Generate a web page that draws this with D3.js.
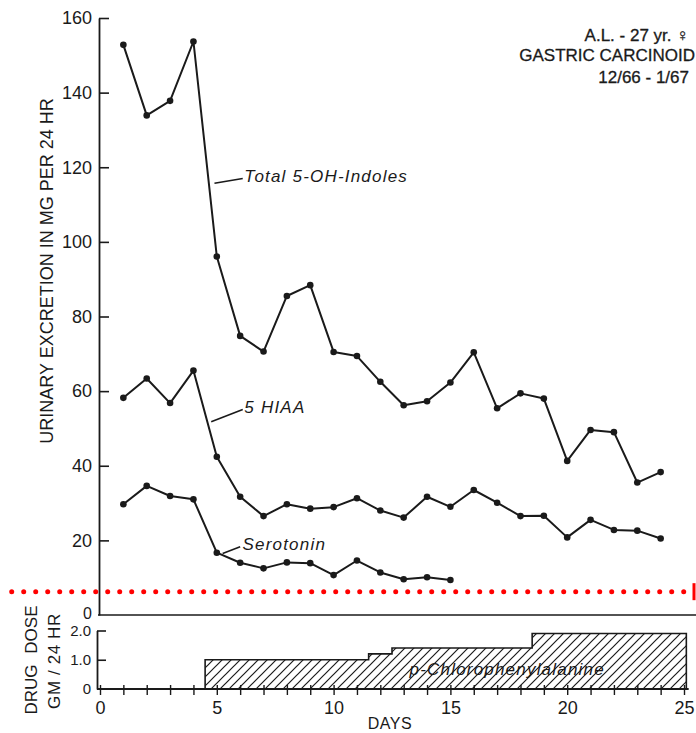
<!DOCTYPE html>
<html>
<head>
<meta charset="utf-8">
<script src="https://cdn.jsdelivr.net/npm/d3@7"></script>
<style>
  body { margin: 0; background: #fff; }
  svg { display: block; font-family: "Liberation Sans", "DejaVu Sans", sans-serif; }
  .lbl { font-style: italic; font-size: 17px; letter-spacing: 1.2px; fill: #1a1a1a; }
</style>
</head>
<body>
<svg id="chart" width="696" height="733"></svg>
<script>
// days of study
var days = [1,2,3,4,5,6,7,8,9,10,11,12,13,14,15,16,17,18,19,20,21,22,23,24];

// urinary excretion, mg per 24 hr
var totalIndoles = [152.8,133.9,137.8,153.7,96.1,74.8,70.6,85.5,88.4,70.5,69.4,62.5,
                    56.2,57.3,62.3,70.4,55.4,59.4,58.0,41.3,49.6,49.0,35.5,38.3];
var hiaa = [58.2,63.4,56.8,65.5,42.4,31.7,26.5,29.7,28.5,28.9,31.3,28.0,
            26.1,31.7,29.0,33.5,30.1,26.5,26.6,20.8,25.5,22.8,22.6,20.5];
var serotonin = [29.7,34.6,31.9,31.0,16.7,14.0,12.5,14.1,13.9,10.7,14.6,11.4,9.6,10.1,9.4];

// p-chlorophenylalanine dose, gm per 24 hr (step changes)
var doseDays   = [4.5, 11.5, 12.5, 18.5, 25.1];
var doseLevels = [1.0, 1.2, 1.4, 1.9, 1.9];

var upperTicks = [0,20,40,60,80,100,120,140,160];
var doseTicks  = [0,1,2];
var dayTicks   = [0,1,2,3,4,5,6,7,8,9,10,11,12,13,14,15,16,17,18,19,20,21,22,23,24,25];
var dayLabels  = [0,5,10,15,20,25];

// series labels: leader start, leader end and text anchor, in day/value units
var seriesLabels = [
    {text: "Total 5-OH-Indoles", from: [4.9, 115.7], to: [6.11, 117.0], at: [6.18, 117.4]},
    {text: "5 HIAA",             from: [4.76, 51.8], to: [6.11, 55.1], at: [6.18, 55.6]},
    {text: "Serotonin",          from: [5.25, 16.5], to: [6.0, 18.3],  at: [6.1, 19.0]}
];
var refValue = 6.25;

var svg = d3.select("#chart");
var ink = "#1a1a1a";

var x = d3.scaleLinear().domain([0, 25]).range([100, 684]);
var y = d3.scaleLinear().domain([0, 160]).range([615, 18]);
var y2 = d3.scaleLinear().domain([0, 2]).range([689, 630.5]);

// hatch pattern
var defs = svg.append("defs");
defs.append("pattern")
    .attr("id", "hatch")
    .attr("patternUnits", "userSpaceOnUse")
    .attr("width", 9).attr("height", 9)
  .append("path")
    .attr("d", "M-2,2 l4,-4 M0,9 l9,-9 M7,11 l4,-4")
    .attr("stroke", ink)
    .attr("stroke-width", 1.2);

// ---- upper panel ----
var upper = svg.append("g");

upper.append("line")
    .attr("x1", x(0) - 2).attr("x2", 696)
    .attr("y1", y(0)).attr("y2", y(0))
    .attr("stroke", ink).attr("stroke-width", 1.6);

var yAxis = upper.append("g")
    .attr("transform", "translate(" + (x(0) - 1) + ",0)")
    .call(d3.axisLeft(y).tickValues(upperTicks).tickSize(-10).tickSizeOuter(0).tickPadding(7));
yAxis.select(".domain").attr("stroke", ink).attr("stroke-width", 1.8);
yAxis.selectAll(".tick line").attr("stroke", ink).attr("stroke-width", 1.6);
yAxis.selectAll(".tick text").attr("font-size", 18).attr("fill", ink);
yAxis.selectAll(".tick").filter(function(d) { return d === 0; })
    .call(function(t) {
        t.select("line").remove();
        t.select("text").attr("font-size", 16).attr("dy", "0.2em");
    });

upper.append("text")
    .attr("transform", "translate(47,271) rotate(-90)")
    .attr("text-anchor", "middle")
    .attr("dominant-baseline", "central")
    .attr("font-size", 18)
    .attr("fill", ink)
    .text("URINARY EXCRETION IN MG PER 24 HR");

// data lines
var line = d3.line()
    .x(function(d) { return x(d[0]); })
    .y(function(d) { return y(d[1]); });

[totalIndoles, hiaa, serotonin].forEach(function(series) {
    var pts = series.map(function(v, i) { return [days[i], v]; });
    upper.append("path")
        .datum(pts)
        .attr("d", line)
        .attr("fill", "none")
        .attr("stroke", ink)
        .attr("stroke-width", 2)
        .attr("stroke-linejoin", "round");
    upper.append("g")
        .selectAll("circle")
        .data(pts)
        .enter().append("circle")
        .attr("cx", function(d) { return x(d[0]); })
        .attr("cy", function(d) { return y(d[1]); })
        .attr("r", 3.3)
        .attr("fill", ink);
});

// series labels with leaders
seriesLabels.forEach(function(l) {
    upper.append("line")
        .attr("x1", x(l.from[0])).attr("y1", y(l.from[1]))
        .attr("x2", x(l.to[0])).attr("y2", y(l.to[1]))
        .attr("stroke", ink).attr("stroke-width", 1.6);
    upper.append("text")
        .attr("class", "lbl")
        .attr("x", x(l.at[0]))
        .attr("y", y(l.at[1]))
        .attr("dominant-baseline", "central")
        .text(l.text);
});

// patient note
var note = [
    {t: "A.L. - 27 yr. \u2640", x: 689, y: 35},
    {t: "GASTRIC CARCINOID", x: 695, y: 55},
    {t: "12/66 - 1/67", x: 689, y: 77}
];
svg.append("g").selectAll("text")
    .data(note)
    .enter().append("text")
    .attr("x", function(d) { return d.x; })
    .attr("y", function(d) { return d.y; })
    .attr("text-anchor", "end")
    .attr("dominant-baseline", "central")
    .attr("font-size", 17)
    .attr("fill", ink)
    .attr("stroke", ink)
    .attr("stroke-width", 0.3)
    .text(function(d) { return d.t; });

// red dotted reference line
var refY = y(refValue);
svg.append("g").selectAll("circle")
    .data(d3.range(11.7, 690, 12))
    .enter().append("circle")
    .attr("cx", function(d) { return d; })
    .attr("cy", refY)
    .attr("r", 2.5)
    .attr("fill", "#f00");
svg.append("rect")
    .attr("x", 692.5).attr("y", refY - 8.5)
    .attr("width", 3).attr("height", 17)
    .attr("fill", "#f00");

// ---- lower panel ----
var lower = svg.append("g");

var dosePts = doseDays.map(function(d, i) { return [d, doseLevels[i]]; });
var area = d3.area()
    .curve(d3.curveStepAfter)
    .x(function(d) { return x(d[0]); })
    .y0(y2(0))
    .y1(function(d) { return y2(d[1]); });

lower.append("path")
    .datum(dosePts)
    .attr("d", area)
    .attr("fill", "url(#hatch)")
    .attr("stroke", ink)
    .attr("stroke-width", 1.6);

lower.append("text")
    .attr("class", "lbl")
    .attr("x", x(13.25))
    .attr("y", y2(0.65))
    .attr("dominant-baseline", "central")
    .attr("font-size", 16)
    .attr("letter-spacing", 1.6)
    .text("p-Chlorophenylalanine");

var y2Axis = lower.append("g")
    .attr("transform", "translate(" + (x(0) - 3) + ",0)")
    .call(d3.axisLeft(y2).tickValues(doseTicks).tickSize(-9).tickSizeOuter(0).tickPadding(6)
        .tickFormat(function(d) { return d === 0 ? "0" : d.toFixed(1); }));
y2Axis.select(".domain").attr("stroke", ink).attr("stroke-width", 1.8);
y2Axis.selectAll(".tick line").attr("stroke", ink).attr("stroke-width", 1.6);
y2Axis.selectAll(".tick text").attr("font-size", 15).attr("fill", ink);
y2Axis.selectAll(".tick").filter(function(d) { return d === 0; }).select("line").remove();

var xAxis = lower.append("g")
    .attr("transform", "translate(0," + y2(0) + ")")
    .call(d3.axisBottom(x).tickValues(dayTicks).tickSize(6).tickSizeOuter(0).tickPadding(6)
        .tickFormat(function(d) { return dayLabels.indexOf(d) >= 0 ? d : ""; }));
xAxis.select(".domain")
    .attr("d", "M" + (x(0) - 3) + ",0H" + x(25.2))
    .attr("stroke", ink).attr("stroke-width", 1.8);
xAxis.selectAll(".tick line").attr("y1", -4).attr("stroke", ink).attr("stroke-width", 1.4);
xAxis.selectAll(".tick text").attr("font-size", 18).attr("fill", ink);

lower.append("text")
    .attr("x", 390).attr("y", 723)
    .attr("text-anchor", "middle")
    .attr("dominant-baseline", "central")
    .attr("font-size", 16)
    .attr("letter-spacing", 0.5)
    .attr("fill", ink)
    .text("DAYS");

lower.append("text")
    .attr("transform", "translate(31,660) rotate(-90)")
    .attr("text-anchor", "middle")
    .attr("dominant-baseline", "central")
    .attr("font-size", 17)
    .attr("word-spacing", 6)
    .attr("fill", ink)
    .text("DRUG DOSE");

lower.append("text")
    .attr("transform", "translate(54,661) rotate(-90)")
    .attr("text-anchor", "middle")
    .attr("dominant-baseline", "central")
    .attr("font-size", 17)
    .attr("letter-spacing", 0.6)
    .attr("fill", ink)
    .text("GM / 24 HR");
</script>
</body>
</html>
